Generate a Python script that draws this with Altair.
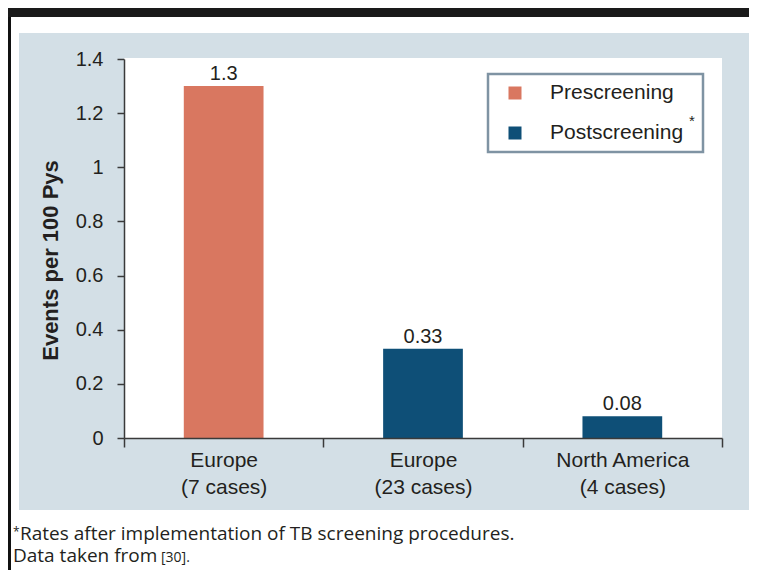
import altair as alt
import pandas as pd

# ---- data -------------------------------------------------------------
regions = ["Europe|(7 cases)", "Europe|(23 cases)", "North America|(4 cases)"]
periods = ["Prescreening", "Postscreening", "Postscreening"]
rates = [1.3, 0.33, 0.08]
rate_labels = ["1.3", "0.33", "0.08"]
series = ["Prescreening", "Postscreening"]
series_colors = ["#D97760", "#0E4F77"]
y_ticks = [0, 0.2, 0.4, 0.6, 0.8, 1.0, 1.2, 1.4]
y_title = "Events per 100 Pys"
footnote_1 = "Rates after implementation of TB screening procedures."
footnote_2 = "Data taken from"
footnote_ref = "[30]."

df = pd.DataFrame({"region": regions, "period": periods,
                   "rate": rates, "label": rate_labels})
one = pd.DataFrame({"d": [0]})

FONT = "Liberation Sans"
NOTE_FONT = "Open Sans"
INK = "#231F20"

W, H = 598, 379
PAD = {"left": 116, "top": 51, "right": 27, "bottom": 132}


def box(x1, x2, y1, y2, **kw):
    return alt.Chart(one).mark_rect(**kw).encode(
        x=alt.value(x1), x2=alt.value(x2), y=alt.value(y1), y2=alt.value(y2))


def label(txt, x, y, **kw):
    return alt.Chart(one).mark_text(**kw).encode(
        x=alt.value(x), y=alt.value(y), text=alt.value(txt))


panel = box(-105, 625, -26, 451, fill="#D3DFE6")
header = box(-116, 625, -51, -42, fill="#1A1A1A")
border = box(-116, -113, -42, 513, fill="#111111")
plot_bg = box(0, W, -1, H, fill="white")

x_enc = alt.X(
    "region:N", sort=regions,
    scale=alt.Scale(paddingInner=0, paddingOuter=0),
    axis=alt.Axis(title=None, labelAngle=0, labelExpr="split(datum.label, '|')",
                  tickBand="extent", labelFont=FONT, labelFontSize=21,
                  labelLineHeight=27, labelPadding=2, labelColor=INK,
                  tickSize=9, tickColor="#3A3A3A", tickWidth=1.5,
                  domainColor="#3A3A3A", domainWidth=1.5, zindex=1),
)
y_enc = alt.Y(
    "rate:Q",
    scale=alt.Scale(domain=[0, 1.4], nice=False),
    axis=alt.Axis(values=y_ticks, format="~g", grid=False,
                  labelFont=FONT, labelFontSize=20, labelColor=INK,
                  labelPadding=14, tickSize=7, tickColor="#3A3A3A",
                  tickWidth=1.5, domainColor="#3A3A3A", domainWidth=1.5,
                  title=y_title, titleFont=FONT, titleFontSize=22,
                  titleFontWeight="bold", titleColor=INK,
                  titleX=-67, titleY=201, titleAngle=270,
                  titleAlign="center", titleBaseline="alphabetic", zindex=1),
)

bars = alt.Chart(df).mark_bar(width=alt.RelativeBandSize(0.4)).encode(
    x=x_enc, y=y_enc,
    color=alt.Color(
        "period:N",
        scale=alt.Scale(domain=series, range=series_colors),
        legend=alt.Legend(orient="none", legendX=380.5, legendY=23.5,
                          direction="vertical", title=None,
                          symbolType="square", symbolSize=169,
                          symbolStrokeWidth=0, symbolOpacity=1,
                          labelFont=FONT, labelFontSize=21, labelColor=INK,
                          labelOffset=24.5, rowPadding=18, padding=0,
                          zindex=1),
    ),
)

values = alt.Chart(df).mark_text(dy=-6, baseline="alphabetic", font=FONT,
                                 fontSize=20, color=INK).encode(
    x=alt.X("region:N", sort=regions), y="rate:Q", text="label:N")

legend_box = box(364, 579, 15, 93, fill="white", stroke="#7F93A3",
                 strokeWidth=2.5)
legend_star = label("*", 565, 62, font=FONT, fontSize=15, color=INK,
                    baseline="middle", align="left")

note_star = label("*", -111, 477, font=NOTE_FONT, fontSize=12, color=INK,
                  baseline="alphabetic", align="left")
note_1 = label(footnote_1, -104, 481, font=NOTE_FONT, fontSize=19,
               color=INK, baseline="alphabetic", align="left")
note_2 = label(footnote_2, -111, 503, font=NOTE_FONT, fontSize=19,
               color=INK, baseline="alphabetic", align="left")
note_ref = label(footnote_ref, 37, 503, font=NOTE_FONT, fontSize=14,
                 color=INK, baseline="alphabetic", align="left")

chart = alt.layer(
    panel, header, border, plot_bg, bars, values, legend_box, legend_star,
    note_star, note_1, note_2, note_ref,
).properties(
    width=W, height=H, padding=PAD,
    autosize=alt.AutoSizeParams(type="none"),
    background="white",
).configure_view(stroke=None, fill=None)

chart.save("out.html", embed_options={"renderer": "svg", "actions": False})
